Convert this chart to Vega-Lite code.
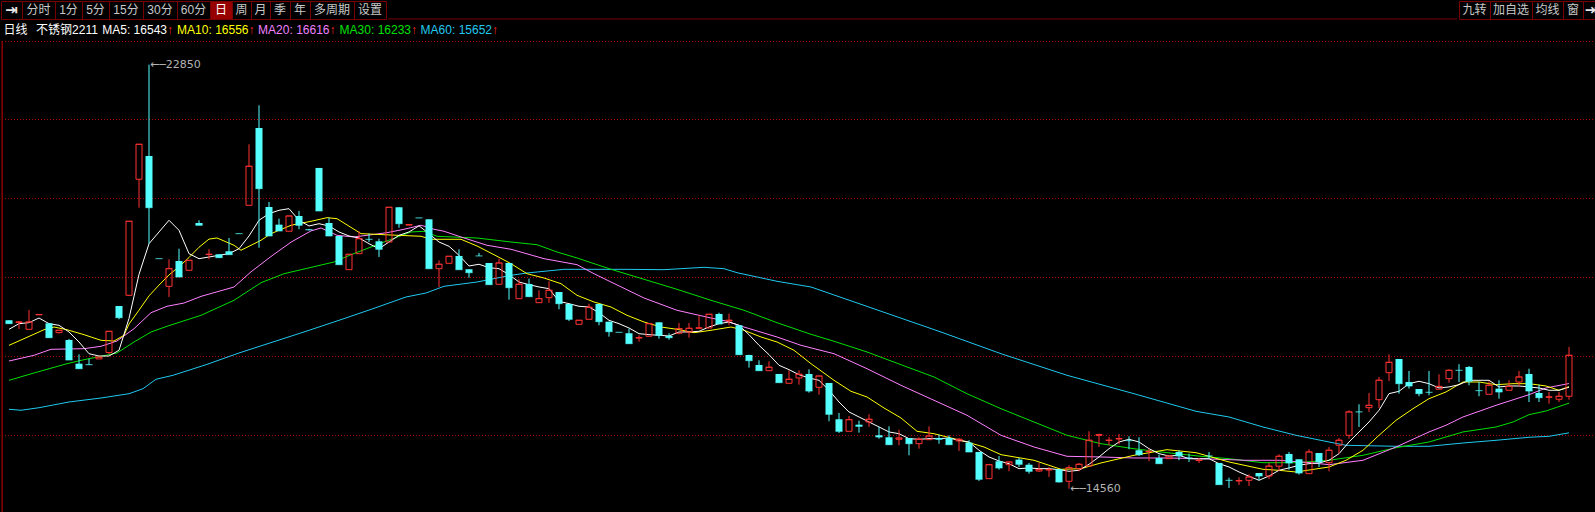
{
"$schema":"https://vega.github.io/schema/vega-lite/v6.json",
"background":"#000000",
"padding":0,
"spacing":0,
"config":{"view":{"stroke":null},"text":{"font":"Liberation Sans, Noto Sans CJK SC","fontSize":12}},
"datasets":{
"candles":[
{"i":0,"o":17853,"h":17853,"l":17787,"c":17787},{"i":1,"o":17810,"h":17833,"l":17682,"c":17819},{"i":2,"o":17676,"h":18054,"l":17676,"c":17819},{"i":3,"o":17960,"h":17966,"l":17960,"c":17966},{"i":4,"o":17793,"h":17793,"l":17512,"c":17512},{"i":5,"o":17611,"h":17657,"l":17594,"c":17657},{"i":6,"o":17467,"h":17487,"l":17076,"c":17076},{"i":7,"o":17004,"h":17187,"l":16906,"c":16906},{"i":8,"o":16990,"h":17102,"l":16984,"c":16984},{"i":9,"o":17097,"h":17131,"l":17097,"c":17131},
{"i":10,"o":17223,"h":17637,"l":17190,"c":17637},{"i":11,"o":18132,"h":18132,"l":17872,"c":17903},{"i":12,"o":18341,"h":19789,"l":18327,"c":19789},{"i":13,"o":20610,"h":21294,"l":20054,"c":21294},{"i":14,"o":21065,"h":22850,"l":19350,"c":20054},{"i":15,"o":19060,"h":19060,"l":19057,"c":19057},{"i":16,"o":18517,"h":19045,"l":18308,"c":18861},{"i":17,"o":19012,"h":19252,"l":18699,"c":18699},{"i":18,"o":18830,"h":19025,"l":18830,"c":19025},{"i":19,"o":19755,"h":19808,"l":19710,"c":19710},
{"i":20,"o":19138,"h":19241,"l":19045,"c":19143},{"i":21,"o":19143,"h":19143,"l":19077,"c":19077},{"i":22,"o":19202,"h":19462,"l":19136,"c":19136},{"i":23,"o":19550,"h":19550,"l":19546,"c":19546},{"i":24,"o":20101,"h":21294,"l":20101,"c":20864},{"i":25,"o":21612,"h":22056,"l":19272,"c":20426},{"i":26,"o":20068,"h":20166,"l":19501,"c":19501},{"i":27,"o":19722,"h":19839,"l":19599,"c":19599},{"i":28,"o":19593,"h":19892,"l":19593,"c":19892},{"i":29,"o":19892,"h":19990,"l":19632,"c":19710},
{"i":30,"o":19630,"h":19640,"l":19610,"c":19620},{"i":31,"o":20831,"h":20831,"l":19990,"c":19990},{"i":32,"o":19755,"h":19859,"l":19501,"c":19501},{"i":33,"o":19501,"h":19501,"l":18940,"c":18940},{"i":34,"o":18842,"h":19143,"l":18842,"c":19143},{"i":35,"o":19155,"h":19593,"l":19155,"c":19448},{"i":36,"o":19440,"h":19546,"l":19383,"c":19436},{"i":37,"o":19397,"h":19448,"l":19090,"c":19241},{"i":38,"o":19383,"h":20062,"l":19383,"c":20062},{"i":39,"o":20062,"h":20062,"l":19663,"c":19741},
{"i":40,"o":19715,"h":19722,"l":19715,"c":19722},{"i":41,"o":19856,"h":19856,"l":19853,"c":19853},{"i":42,"o":19827,"h":19827,"l":18861,"c":18861},{"i":43,"o":18861,"h":19025,"l":18504,"c":18948},{"i":44,"o":18967,"h":19104,"l":18967,"c":19104},{"i":45,"o":19110,"h":19241,"l":18842,"c":18842},{"i":46,"o":18850,"h":18850,"l":18685,"c":18783},{"i":47,"o":19112,"h":19169,"l":19110,"c":19110},{"i":48,"o":18973,"h":18973,"l":18549,"c":18549},{"i":49,"o":18557,"h":19057,"l":18557,"c":18973},
{"i":50,"o":18973,"h":18973,"l":18256,"c":18490},{"i":51,"o":18275,"h":18654,"l":18275,"c":18557},{"i":52,"o":18563,"h":18666,"l":18314,"c":18314},{"i":53,"o":18197,"h":18439,"l":18197,"c":18275},{"i":54,"o":18295,"h":18615,"l":18197,"c":18439},{"i":55,"o":18406,"h":18406,"l":18068,"c":18177},{"i":56,"o":18171,"h":18171,"l":17839,"c":17872},{"i":57,"o":17774,"h":17853,"l":17774,"c":17853},{"i":58,"o":17872,"h":18177,"l":17872,"c":18107},{"i":59,"o":18171,"h":18171,"l":17755,"c":17825},
{"i":60,"o":17825,"h":17825,"l":17532,"c":17630},{"i":61,"o":17621,"h":17621,"l":17618,"c":17618},{"i":62,"o":17599,"h":17689,"l":17395,"c":17395},{"i":63,"o":17508,"h":17559,"l":17434,"c":17512},{"i":64,"o":17540,"h":17786,"l":17540,"c":17786},{"i":65,"o":17813,"h":17813,"l":17493,"c":17559},{"i":66,"o":17546,"h":17599,"l":17473,"c":17512},{"i":67,"o":17599,"h":17800,"l":17579,"c":17689},{"i":68,"o":17624,"h":17800,"l":17512,"c":17696},{"i":69,"o":17698,"h":17950,"l":17698,"c":17702},
{"i":70,"o":17702,"h":17970,"l":17702,"c":17970},{"i":71,"o":17976,"h":18001,"l":17780,"c":17780},{"i":72,"o":17839,"h":17982,"l":17755,"c":17853},{"i":73,"o":17755,"h":17755,"l":17174,"c":17180},{"i":74,"o":17174,"h":17180,"l":16926,"c":17063},{"i":75,"o":16979,"h":17070,"l":16867,"c":16867},{"i":76,"o":16867,"h":17051,"l":16867,"c":16934},{"i":77,"o":16803,"h":16803,"l":16633,"c":16633},{"i":78,"o":16621,"h":16875,"l":16621,"c":16699},{"i":79,"o":16725,"h":16875,"l":16594,"c":16797},
{"i":80,"o":16803,"h":16894,"l":16437,"c":16470},{"i":81,"o":16542,"h":16763,"l":16398,"c":16763},{"i":82,"o":16627,"h":16627,"l":15878,"c":16015},{"i":83,"o":15917,"h":16040,"l":15649,"c":15682},{"i":84,"o":15682,"h":15982,"l":15682,"c":15909},{"i":85,"o":15811,"h":15890,"l":15655,"c":15780},{"i":86,"o":15864,"h":16015,"l":15767,"c":15917},{"i":87,"o":15604,"h":15767,"l":15537,"c":15571},{"i":88,"o":15565,"h":15780,"l":15420,"c":15420},{"i":89,"o":15526,"h":15714,"l":15409,"c":15551},
{"i":90,"o":15551,"h":15551,"l":15213,"c":15440},{"i":91,"o":15440,"h":15565,"l":15342,"c":15526},{"i":92,"o":15518,"h":15780,"l":15518,"c":15590},{"i":93,"o":15551,"h":15616,"l":15440,"c":15526},{"i":94,"o":15551,"h":15604,"l":15420,"c":15420},{"i":95,"o":15493,"h":15551,"l":15297,"c":15526},{"i":96,"o":15460,"h":15507,"l":15278,"c":15278},{"i":97,"o":15278,"h":15278,"l":14711,"c":14744},{"i":98,"o":14756,"h":15029,"l":14756,"c":15029},{"i":99,"o":15096,"h":15199,"l":14932,"c":14965},
{"i":100,"o":15029,"h":15100,"l":14900,"c":15082},{"i":101,"o":15128,"h":15160,"l":14984,"c":15037},{"i":102,"o":15029,"h":15063,"l":14853,"c":14900},{"i":103,"o":14906,"h":15069,"l":14887,"c":14932},{"i":104,"o":14928,"h":14984,"l":14789,"c":14932},{"i":105,"o":14939,"h":14939,"l":14680,"c":14691},{"i":106,"o":14705,"h":15018,"l":14560,"c":14971},{"i":107,"o":14951,"h":15063,"l":14900,"c":15037},{"i":108,"o":15004,"h":15682,"l":15004,"c":15507},{"i":109,"o":15604,"h":15635,"l":15376,"c":15616},
{"i":110,"o":15503,"h":15571,"l":15409,"c":15507},{"i":111,"o":15534,"h":15629,"l":15428,"c":15538},{"i":112,"o":15503,"h":15585,"l":15331,"c":15499},{"i":113,"o":15311,"h":15565,"l":15199,"c":15225},{"i":114,"o":15287,"h":15343,"l":15096,"c":15291},{"i":115,"o":15160,"h":15225,"l":15049,"c":15049},{"i":116,"o":15147,"h":15199,"l":15147,"c":15199},{"i":117,"o":15278,"h":15311,"l":15115,"c":15199},{"i":118,"o":15164,"h":15245,"l":15082,"c":15160},{"i":119,"o":15111,"h":15160,"l":15063,"c":15115},
{"i":120,"o":15203,"h":15278,"l":15147,"c":15199},{"i":121,"o":15063,"h":15063,"l":14639,"c":14639},{"i":122,"o":14728,"h":14775,"l":14574,"c":14724},{"i":123,"o":14713,"h":14782,"l":14632,"c":14717},{"i":124,"o":14724,"h":14842,"l":14613,"c":14789},{"i":125,"o":14867,"h":14867,"l":14724,"c":14808},{"i":126,"o":14808,"h":15063,"l":14750,"c":15000},{"i":127,"o":15000,"h":15233,"l":14900,"c":15194},{"i":128,"o":15239,"h":15278,"l":14932,"c":15063},{"i":129,"o":15135,"h":15135,"l":14834,"c":14867},
{"i":130,"o":14854,"h":15330,"l":14854,"c":15278},{"i":131,"o":15258,"h":15258,"l":14984,"c":15082},{"i":132,"o":15069,"h":15376,"l":14900,"c":15311},{"i":133,"o":15409,"h":15551,"l":15245,"c":15507},{"i":134,"o":15604,"h":16093,"l":15537,"c":16060},{"i":135,"o":16064,"h":16210,"l":15767,"c":16060},{"i":136,"o":16144,"h":16431,"l":16060,"c":16190},{"i":137,"o":16300,"h":16744,"l":16138,"c":16680},{"i":138,"o":16828,"h":17187,"l":16666,"c":17031},{"i":139,"o":17096,"h":17096,"l":16418,"c":16613},
{"i":140,"o":16646,"h":16861,"l":16516,"c":16568},{"i":141,"o":16509,"h":16509,"l":16367,"c":16418},{"i":142,"o":16449,"h":16861,"l":16386,"c":16445},{"i":143,"o":16504,"h":16797,"l":16504,"c":16560},{"i":144,"o":16711,"h":16894,"l":16633,"c":16875},{"i":145,"o":16879,"h":16993,"l":16646,"c":16875},{"i":146,"o":16940,"h":16959,"l":16582,"c":16660},{"i":147,"o":16480,"h":16646,"l":16367,"c":16476},{"i":148,"o":16406,"h":16660,"l":16406,"c":16582},{"i":149,"o":16516,"h":16679,"l":16320,"c":16451},
{"i":150,"o":16484,"h":16679,"l":16484,"c":16560},{"i":151,"o":16646,"h":16861,"l":16560,"c":16744},{"i":152,"o":16803,"h":16906,"l":16255,"c":16470},{"i":153,"o":16431,"h":16593,"l":16255,"c":16339},{"i":154,"o":16349,"h":16451,"l":16222,"c":16353},{"i":155,"o":16308,"h":16451,"l":16255,"c":16367},{"i":156,"o":16367,"h":17331,"l":16300,"c":17168}
],
"ma":[
{"n":"MA60","i":0,"v":16112},{"n":"MA60","i":1.2,"v":16093},{"n":"MA60","i":3,"v":16143},{"n":"MA60","i":6,"v":16255},{"n":"MA60","i":9.2,"v":16333},{"n":"MA60","i":12,"v":16417},{"n":"MA60","i":13.4,"v":16515},{"n":"MA60","i":14.7,"v":16699},{"n":"MA60","i":16.4,"v":16777},{"n":"MA60","i":19.7,"v":16984},{"n":"MA60","i":23,"v":17213},{"n":"MA60","i":26.4,"v":17428},{"n":"MA60","i":29.7,"v":17637},{"n":"MA60","i":33,"v":17852},{"n":"MA60","i":36.4,"v":18079},{"n":"MA60","i":39.7,"v":18308},{"n":"MA60","i":41.7,"v":18386},{"n":"MA60","i":43.5,"v":18517},{"n":"MA60","i":46.8,"v":18601},{"n":"MA60","i":50.2,"v":18732},{"n":"MA60","i":51.8,"v":18777},{"n":"MA60","i":53.5,"v":18810},{"n":"MA60","i":55.5,"v":18849},{"n":"MA60","i":61.5,"v":18849},{"n":"MA60","i":65.5,"v":18842},{"n":"MA60","i":69.5,"v":18888},{"n":"MA60","i":71.5,"v":18861},{"n":"MA60","i":72.8,"v":18783},{"n":"MA60","i":76.8,"v":18615},{"n":"MA60","i":80.2,"v":18503},{"n":"MA60","i":93.2,"v":17623},{"n":"MA60","i":99.2,"v":17199},{"n":"MA60","i":105.8,"v":16777},{"n":"MA60","i":112.5,"v":16417},{"n":"MA60","i":118.7,"v":16073},{"n":"MA60","i":122,"v":15962},{"n":"MA60","i":125.4,"v":15766},{"n":"MA60","i":128.7,"v":15604},{"n":"MA60","i":132,"v":15473},{"n":"MA60","i":133.7,"v":15408},{"n":"MA60","i":138.7,"v":15389},{"n":"MA60","i":142,"v":15389},{"n":"MA60","i":145.4,"v":15453},{"n":"MA60","i":148.7,"v":15506},{"n":"MA60","i":152,"v":15565},{"n":"MA60","i":154,"v":15584},{"n":"MA60","i":156,"v":15652},
{"n":"MA30","i":0,"v":16679},{"n":"MA30","i":2.5,"v":16822},{"n":"MA30","i":5.8,"v":17004},{"n":"MA30","i":7.5,"v":17082},{"n":"MA30","i":9.2,"v":17148},{"n":"MA30","i":10.8,"v":17213},{"n":"MA30","i":12.5,"v":17428},{"n":"MA30","i":14.2,"v":17623},{"n":"MA30","i":15.8,"v":17735},{"n":"MA30","i":19.2,"v":17950},{"n":"MA30","i":22.5,"v":18243},{"n":"MA30","i":25.2,"v":18587},{"n":"MA30","i":27.5,"v":18763},{"n":"MA30","i":29.2,"v":18841},{"n":"MA30","i":32.5,"v":18992},{"n":"MA30","i":34.2,"v":19135},{"n":"MA30","i":37.5,"v":19383},{"n":"MA30","i":40.2,"v":19579},{"n":"MA30","i":41.5,"v":19592},{"n":"MA30","i":42.8,"v":19494},{"n":"MA30","i":46.8,"v":19461},{"n":"MA30","i":50.2,"v":19383},{"n":"MA30","i":52.8,"v":19330},{"n":"MA30","i":54.8,"v":19188},{"n":"MA30","i":56.8,"v":19071},{"n":"MA30","i":60.2,"v":18849},{"n":"MA30","i":63.5,"v":18654},{"n":"MA30","i":66.8,"v":18458},{"n":"MA30","i":70.2,"v":18243},{"n":"MA30","i":73.5,"v":18048},{"n":"MA30","i":76.8,"v":17805},{"n":"MA30","i":80.2,"v":17578},{"n":"MA30","i":82.5,"v":17442},{"n":"MA30","i":85.8,"v":17233},{"n":"MA30","i":89.2,"v":16984},{"n":"MA30","i":92.5,"v":16744},{"n":"MA30","i":95.8,"v":16417},{"n":"MA30","i":99.2,"v":16124},{"n":"MA30","i":102.5,"v":15864},{"n":"MA30","i":105.8,"v":15604},{"n":"MA30","i":109.2,"v":15439},{"n":"MA30","i":112.5,"v":15341},{"n":"MA30","i":115.8,"v":15264},{"n":"MA30","i":119.2,"v":15193},{"n":"MA30","i":122,"v":15146},{"n":"MA30","i":125.4,"v":15068},{"n":"MA30","i":128.7,"v":15068},{"n":"MA30","i":132,"v":15115},{"n":"MA30","i":135.4,"v":15213},{"n":"MA30","i":138.7,"v":15361},{"n":"MA30","i":142,"v":15473},{"n":"MA30","i":145.4,"v":15669},{"n":"MA30","i":148.7,"v":15766},{"n":"MA30","i":150.4,"v":15864},{"n":"MA30","i":152,"v":16007},{"n":"MA30","i":153.7,"v":16079},{"n":"MA30","i":156,"v":16233},
{"n":"MA20","i":0,"v":17056},{"n":"MA20","i":2.5,"v":17168},{"n":"MA20","i":4.2,"v":17285},{"n":"MA20","i":7.5,"v":17297},{"n":"MA20","i":9.2,"v":17344},{"n":"MA20","i":10.8,"v":17447},{"n":"MA20","i":12.5,"v":17688},{"n":"MA20","i":14.2,"v":18001},{"n":"MA20","i":15.8,"v":18126},{"n":"MA20","i":17.5,"v":18190},{"n":"MA20","i":19.2,"v":18320},{"n":"MA20","i":22.5,"v":18503},{"n":"MA20","i":24.2,"v":18800},{"n":"MA20","i":26.2,"v":19100},{"n":"MA20","i":28.2,"v":19380},{"n":"MA20","i":30.2,"v":19600},{"n":"MA20","i":31.2,"v":19657},{"n":"MA20","i":32.8,"v":19514},{"n":"MA20","i":34.5,"v":19481},{"n":"MA20","i":37.8,"v":19565},{"n":"MA20","i":39.5,"v":19632},{"n":"MA20","i":41.2,"v":19710},{"n":"MA20","i":42.5,"v":19632},{"n":"MA20","i":43.5,"v":19593},{"n":"MA20","i":45.2,"v":19481},{"n":"MA20","i":47.8,"v":19319},{"n":"MA20","i":50.2,"v":19241},{"n":"MA20","i":53.5,"v":19057},{"n":"MA20","i":56.8,"v":18940},{"n":"MA20","i":58.5,"v":18763},{"n":"MA20","i":60.2,"v":18601},{"n":"MA20","i":63.5,"v":18288},{"n":"MA20","i":66.8,"v":18048},{"n":"MA20","i":70.2,"v":17897},{"n":"MA20","i":71.8,"v":17833},{"n":"MA20","i":73.5,"v":17721},{"n":"MA20","i":76.8,"v":17526},{"n":"MA20","i":79.2,"v":17363},{"n":"MA20","i":82.5,"v":17199},{"n":"MA20","i":85.8,"v":16906},{"n":"MA20","i":89.2,"v":16581},{"n":"MA20","i":92.5,"v":16288},{"n":"MA20","i":95.8,"v":15995},{"n":"MA20","i":99.2,"v":15604},{"n":"MA20","i":102.5,"v":15375},{"n":"MA20","i":105.8,"v":15193},{"n":"MA20","i":109.2,"v":15180},{"n":"MA20","i":112.5,"v":15160},{"n":"MA20","i":115.8,"v":15160},{"n":"MA20","i":119.2,"v":15147},{"n":"MA20","i":123.7,"v":15115},{"n":"MA20","i":127,"v":15115},{"n":"MA20","i":130.4,"v":15063},{"n":"MA20","i":132,"v":15029},{"n":"MA20","i":135.4,"v":15115},{"n":"MA20","i":138.7,"v":15375},{"n":"MA20","i":142,"v":15669},{"n":"MA20","i":143.7,"v":15800},{"n":"MA20","i":145.4,"v":15962},{"n":"MA20","i":148.7,"v":16190},{"n":"MA20","i":152,"v":16398},{"n":"MA20","i":153.7,"v":16529},{"n":"MA20","i":156,"v":16616},
{"n":"MA10","i":0,"v":17363},{"n":"MA10","i":1.5,"v":17493},{"n":"MA10","i":3.5,"v":17668},{"n":"MA10","i":4.5,"v":17721},{"n":"MA10","i":5.8,"v":17668},{"n":"MA10","i":7.5,"v":17571},{"n":"MA10","i":9.2,"v":17461},{"n":"MA10","i":10.5,"v":17447},{"n":"MA10","i":11.5,"v":17559},{"n":"MA10","i":12,"v":17780},{"n":"MA10","i":13,"v":18050},{"n":"MA10","i":14,"v":18330},{"n":"MA10","i":15,"v":18540},{"n":"MA10","i":16,"v":18740},{"n":"MA10","i":17,"v":18900},{"n":"MA10","i":18,"v":19080},{"n":"MA10","i":19,"v":19280},{"n":"MA10","i":20,"v":19440},{"n":"MA10","i":20.8,"v":19462},{"n":"MA10","i":22.5,"v":19319},{"n":"MA10","i":23.2,"v":19221},{"n":"MA10","i":25.2,"v":19417},{"n":"MA10","i":26.2,"v":19546},{"n":"MA10","i":28.2,"v":19710},{"n":"MA10","i":30.2,"v":19788},{"n":"MA10","i":31.8,"v":19859},{"n":"MA10","i":32.8,"v":19839},{"n":"MA10","i":34.5,"v":19632},{"n":"MA10","i":35.2,"v":19546},{"n":"MA10","i":37.5,"v":19526},{"n":"MA10","i":41.2,"v":19495},{"n":"MA10","i":42.2,"v":19436},{"n":"MA10","i":45.2,"v":19436},{"n":"MA10","i":46.8,"v":19305},{"n":"MA10","i":48.5,"v":19135},{"n":"MA10","i":50.2,"v":18959},{"n":"MA10","i":51.8,"v":18763},{"n":"MA10","i":53.5,"v":18679},{"n":"MA10","i":55.2,"v":18568},{"n":"MA10","i":56.8,"v":18341},{"n":"MA10","i":58.5,"v":18210},{"n":"MA10","i":60.2,"v":18112},{"n":"MA10","i":61.8,"v":17950},{"n":"MA10","i":63.5,"v":17819},{"n":"MA10","i":65.2,"v":17721},{"n":"MA10","i":66.8,"v":17676},{"n":"MA10","i":68.5,"v":17610},{"n":"MA10","i":70.2,"v":17657},{"n":"MA10","i":72.2,"v":17721},{"n":"MA10","i":73.5,"v":17657},{"n":"MA10","i":75.2,"v":17526},{"n":"MA10","i":76.8,"v":17428},{"n":"MA10","i":78.5,"v":17266},{"n":"MA10","i":80.2,"v":17004},{"n":"MA10","i":82.5,"v":16679},{"n":"MA10","i":84.2,"v":16464},{"n":"MA10","i":85.8,"v":16353},{"n":"MA10","i":87.5,"v":16138},{"n":"MA10","i":89.2,"v":15942},{"n":"MA10","i":90.8,"v":15682},{"n":"MA10","i":92.5,"v":15635},{"n":"MA10","i":95.8,"v":15473},{"n":"MA10","i":97.5,"v":15375},{"n":"MA10","i":99.2,"v":15225},{"n":"MA10","i":102.5,"v":15115},{"n":"MA10","i":105.2,"v":14939},{"n":"MA10","i":107.2,"v":14951},{"n":"MA10","i":109.2,"v":15063},{"n":"MA10","i":112.5,"v":15213},{"n":"MA10","i":115.8,"v":15323},{"n":"MA10","i":118.7,"v":15264},{"n":"MA10","i":122,"v":15082},{"n":"MA10","i":125.4,"v":14939},{"n":"MA10","i":127,"v":14919},{"n":"MA10","i":128.7,"v":14886},{"n":"MA10","i":132,"v":14984},{"n":"MA10","i":133.7,"v":15115},{"n":"MA10","i":135.4,"v":15311},{"n":"MA10","i":137,"v":15604},{"n":"MA10","i":138.7,"v":15897},{"n":"MA10","i":140.4,"v":16124},{"n":"MA10","i":142,"v":16320},{"n":"MA10","i":143.7,"v":16451},{"n":"MA10","i":145.4,"v":16646},{"n":"MA10","i":147,"v":16646},{"n":"MA10","i":148.7,"v":16593},{"n":"MA10","i":150.4,"v":16613},{"n":"MA10","i":152,"v":16613},{"n":"MA10","i":153.7,"v":16568},{"n":"MA10","i":155,"v":16484},{"n":"MA10","i":156,"v":16556},
{"n":"MA5","i":0,"v":17676},{"n":"MA5","i":1,"v":17786},{"n":"MA5","i":2,"v":17806},{"n":"MA5","i":3,"v":17897},{"n":"MA5","i":4,"v":17786},{"n":"MA5","i":5,"v":17754},{"n":"MA5","i":6,"v":17624},{"n":"MA5","i":7,"v":17428},{"n":"MA5","i":8,"v":17199},{"n":"MA5","i":9,"v":17154},{"n":"MA5","i":10,"v":17154},{"n":"MA5","i":11,"v":17266},{"n":"MA5","i":12,"v":17889},{"n":"MA5","i":13,"v":18751},{"n":"MA5","i":14,"v":19350},{"n":"MA5","i":15,"v":19579},{"n":"MA5","i":16,"v":19808},{"n":"MA5","i":17,"v":19612},{"n":"MA5","i":18,"v":19155},{"n":"MA5","i":19,"v":19057},
{"n":"MA5","i":20,"v":19090},{"n":"MA5","i":21,"v":19123},{"n":"MA5","i":22,"v":19155},{"n":"MA5","i":23,"v":19252},{"n":"MA5","i":24,"v":19501},{"n":"MA5","i":25,"v":19808},{"n":"MA5","i":26,"v":19937},{"n":"MA5","i":27,"v":20003},{"n":"MA5","i":28,"v":20035},{"n":"MA5","i":29,"v":19808},{"n":"MA5","i":30,"v":19696},{"n":"MA5","i":31,"v":19741},{"n":"MA5","i":32,"v":19696},{"n":"MA5","i":33,"v":19579},{"n":"MA5","i":34,"v":19501},{"n":"MA5","i":35,"v":19462},{"n":"MA5","i":36,"v":19350},{"n":"MA5","i":37,"v":19252},{"n":"MA5","i":38,"v":19383},{"n":"MA5","i":39,"v":19514},
{"n":"MA5","i":40,"v":19579},{"n":"MA5","i":41,"v":19700},{"n":"MA5","i":42,"v":19546},{"n":"MA5","i":43,"v":19383},{"n":"MA5","i":44,"v":19299},{"n":"MA5","i":45,"v":19123},{"n":"MA5","i":46,"v":18914},{"n":"MA5","i":47,"v":18948},{"n":"MA5","i":48,"v":18881},{"n":"MA5","i":49,"v":18861},{"n":"MA5","i":50,"v":18744},{"n":"MA5","i":51,"v":18601},{"n":"MA5","i":52,"v":18549},{"n":"MA5","i":53,"v":18504},{"n":"MA5","i":54,"v":18470},{"n":"MA5","i":55,"v":18224},{"n":"MA5","i":56,"v":18177},{"n":"MA5","i":57,"v":18126},{"n":"MA5","i":58,"v":18112},{"n":"MA5","i":59,"v":18001},
{"n":"MA5","i":60,"v":17852},{"n":"MA5","i":61,"v":17786},{"n":"MA5","i":62,"v":17702},{"n":"MA5","i":63,"v":17591},{"n":"MA5","i":64,"v":17571},{"n":"MA5","i":65,"v":17559},{"n":"MA5","i":66,"v":17546},{"n":"MA5","i":67,"v":17624},{"n":"MA5","i":68,"v":17624},{"n":"MA5","i":69,"v":17637},{"n":"MA5","i":70,"v":17721},{"n":"MA5","i":71,"v":17786},{"n":"MA5","i":72,"v":17819},{"n":"MA5","i":73,"v":17755},{"n":"MA5","i":74,"v":17571},{"n":"MA5","i":75,"v":17364},{"n":"MA5","i":76,"v":17180},{"n":"MA5","i":77,"v":16973},{"n":"MA5","i":78,"v":16887},{"n":"MA5","i":79,"v":16789},
{"n":"MA5","i":80,"v":16725},{"n":"MA5","i":81,"v":16679},{"n":"MA5","i":82,"v":16484},{"n":"MA5","i":83,"v":16255},{"n":"MA5","i":84,"v":16060},{"n":"MA5","i":85,"v":15962},{"n":"MA5","i":86,"v":15864},{"n":"MA5","i":87,"v":15767},{"n":"MA5","i":88,"v":15669},{"n":"MA5","i":89,"v":15635},{"n":"MA5","i":90,"v":15538},{"n":"MA5","i":91,"v":15526},{"n":"MA5","i":92,"v":15538},{"n":"MA5","i":93,"v":15538},{"n":"MA5","i":94,"v":15551},{"n":"MA5","i":95,"v":15506},{"n":"MA5","i":96,"v":15473},{"n":"MA5","i":97,"v":15311},{"n":"MA5","i":98,"v":15180},{"n":"MA5","i":99,"v":15102},
{"n":"MA5","i":100,"v":15049},{"n":"MA5","i":101,"v":14951},{"n":"MA5","i":102,"v":14965},{"n":"MA5","i":103,"v":14951},{"n":"MA5","i":104,"v":14951},{"n":"MA5","i":105,"v":14932},{"n":"MA5","i":106,"v":14900},{"n":"MA5","i":107,"v":14920},{"n":"MA5","i":108,"v":15037},{"n":"MA5","i":109,"v":15180},{"n":"MA5","i":110,"v":15342},{"n":"MA5","i":111,"v":15473},{"n":"MA5","i":112,"v":15526},{"n":"MA5","i":113,"v":15473},{"n":"MA5","i":114,"v":15342},{"n":"MA5","i":115,"v":15245},{"n":"MA5","i":116,"v":15199},{"n":"MA5","i":117,"v":15213},{"n":"MA5","i":118,"v":15147},{"n":"MA5","i":119,"v":15141},
{"n":"MA5","i":120,"v":15147},{"n":"MA5","i":121,"v":15049},{"n":"MA5","i":122,"v":14984},{"n":"MA5","i":123,"v":14887},{"n":"MA5","i":124,"v":14803},{"n":"MA5","i":125,"v":14724},{"n":"MA5","i":126,"v":14808},{"n":"MA5","i":127,"v":14920},{"n":"MA5","i":128,"v":14965},{"n":"MA5","i":129,"v":15018},{"n":"MA5","i":130,"v":15049},{"n":"MA5","i":131,"v":15063},{"n":"MA5","i":132,"v":15115},{"n":"MA5","i":133,"v":15245},{"n":"MA5","i":134,"v":15473},{"n":"MA5","i":135,"v":15669},{"n":"MA5","i":136,"v":15864},{"n":"MA5","i":137,"v":16093},{"n":"MA5","i":138,"v":16418},{"n":"MA5","i":139,"v":16464},
{"n":"MA5","i":140,"v":16613},{"n":"MA5","i":141,"v":16660},{"n":"MA5","i":142,"v":16613},{"n":"MA5","i":143,"v":16529},{"n":"MA5","i":144,"v":16549},{"n":"MA5","i":145,"v":16593},{"n":"MA5","i":146,"v":16679},{"n":"MA5","i":147,"v":16679},{"n":"MA5","i":148,"v":16679},{"n":"MA5","i":149,"v":16549},{"n":"MA5","i":150,"v":16568},{"n":"MA5","i":151,"v":16568},{"n":"MA5","i":152,"v":16549},{"n":"MA5","i":153,"v":16529},{"n":"MA5","i":154,"v":16484},{"n":"MA5","i":155,"v":16484},{"n":"MA5","i":156,"v":16543}
],
"grid":[{"v":23303},{"v":21778},{"v":20234},{"v":18689},{"v":17144},{"v":15600}],
"edge":[{"i":-0.68}],
"marks":[{"i":14,"v":22850,"t":"←─22850"},{"i":106,"v":14560,"t":"←─14560"}]
},
"vconcat":[
{"hconcat":[
 {"hconcat":[
  {"width":21,"height":18,"view":{"stroke":"#780000","fill":"#000000"},"data":{"values":[{"t":"⇥"}]},"mark":{"type":"text","color":"#e6e6e6","font":"DejaVu Sans","fontSize":15,"fontWeight":"bold"},"encoding":{"text":{"field":"t"}}},
  {"width":33,"height":18,"view":{"stroke":"#780000","fill":"#000000"},"data":{"values":[{"t":"分时"}]},"mark":{"type":"text","color":"#c8c8c8"},"encoding":{"text":{"field":"t"}}},
  {"width":27,"height":18,"view":{"stroke":"#780000","fill":"#000000"},"data":{"values":[{"t":"1分"}]},"mark":{"type":"text","color":"#c8c8c8"},"encoding":{"text":{"field":"t"}}},
  {"width":27,"height":18,"view":{"stroke":"#780000","fill":"#000000"},"data":{"values":[{"t":"5分"}]},"mark":{"type":"text","color":"#c8c8c8"},"encoding":{"text":{"field":"t"}}},
  {"width":34,"height":18,"view":{"stroke":"#780000","fill":"#000000"},"data":{"values":[{"t":"15分"}]},"mark":{"type":"text","color":"#c8c8c8"},"encoding":{"text":{"field":"t"}}},
  {"width":34,"height":18,"view":{"stroke":"#780000","fill":"#000000"},"data":{"values":[{"t":"30分"}]},"mark":{"type":"text","color":"#c8c8c8"},"encoding":{"text":{"field":"t"}}},
  {"width":33,"height":18,"view":{"stroke":"#780000","fill":"#000000"},"data":{"values":[{"t":"60分"}]},"mark":{"type":"text","color":"#c8c8c8"},"encoding":{"text":{"field":"t"}}},
  {"width":22,"height":18,"view":{"stroke":"#780000","fill":"#960000"},"data":{"values":[{"t":"日"}]},"mark":{"type":"text","color":"#ffffff"},"encoding":{"text":{"field":"t"}}},
  {"width":19,"height":18,"view":{"stroke":"#780000","fill":"#000000"},"data":{"values":[{"t":"周"}]},"mark":{"type":"text","color":"#c8c8c8"},"encoding":{"text":{"field":"t"}}},
  {"width":19,"height":18,"view":{"stroke":"#780000","fill":"#000000"},"data":{"values":[{"t":"月"}]},"mark":{"type":"text","color":"#c8c8c8"},"encoding":{"text":{"field":"t"}}},
  {"width":20,"height":18,"view":{"stroke":"#780000","fill":"#000000"},"data":{"values":[{"t":"季"}]},"mark":{"type":"text","color":"#c8c8c8"},"encoding":{"text":{"field":"t"}}},
  {"width":20,"height":18,"view":{"stroke":"#780000","fill":"#000000"},"data":{"values":[{"t":"年"}]},"mark":{"type":"text","color":"#c8c8c8"},"encoding":{"text":{"field":"t"}}},
  {"width":44,"height":18,"view":{"stroke":"#780000","fill":"#000000"},"data":{"values":[{"t":"多周期"}]},"mark":{"type":"text","color":"#c8c8c8"},"encoding":{"text":{"field":"t"}}},
  {"width":32,"height":18,"view":{"stroke":"#780000","fill":"#000000"},"data":{"values":[{"t":"设置"}]},"mark":{"type":"text","color":"#c8c8c8"},"encoding":{"text":{"field":"t"}}}
 ],"spacing":0,"bounds":"flush"},
 {"width":1069,"height":18,"data":{"values":[{"b":0}]},"mark":{"type":"rule","color":"#780000"},"encoding":{"y":{"field":"b","type":"quantitative","scale":{"domain":[0,1]},"axis":null}}},
 {"hconcat":[
  {"width":31,"height":18,"view":{"stroke":"#780000","fill":"#000000"},"data":{"values":[{"t":"九转"}]},"mark":{"type":"text","color":"#c8c8c8"},"encoding":{"text":{"field":"t"}}},
  {"width":42,"height":18,"view":{"stroke":"#780000","fill":"#000000"},"data":{"values":[{"t":"加自选"}]},"mark":{"type":"text","color":"#c8c8c8"},"encoding":{"text":{"field":"t"}}},
  {"width":31,"height":18,"view":{"stroke":"#780000","fill":"#000000"},"data":{"values":[{"t":"均线"}]},"mark":{"type":"text","color":"#c8c8c8"},"encoding":{"text":{"field":"t"}}},
  {"width":20,"height":18,"view":{"stroke":"#780000","fill":"#000000"},"data":{"values":[{"t":"窗"}]},"mark":{"type":"text","color":"#c8c8c8"},"encoding":{"text":{"field":"t"}}},
  {"width":16,"height":18,"view":{"stroke":"#780000","fill":"#000000"},"data":{"values":[{"t":"⇥"}]},"mark":{"type":"text","color":"#e6e6e6","font":"DejaVu Sans","fontSize":15,"fontWeight":"bold"},"encoding":{"text":{"field":"t"}}}
 ],"spacing":0,"bounds":"flush"}
],"spacing":0},
{"hconcat":[
 {"width":29,"height":20,"data":{"values":[{"t":"日线"}]},"mark":{"type":"text","color":"#ffffff"},"encoding":{"text":{"field":"t"}}},
 {"width":74,"height":20,"data":{"values":[{"t":"不锈钢2211"}]},"mark":{"type":"text","color":"#ffffff"},"encoding":{"text":{"field":"t"}}},
 {"width":126,"height":20,"data":{"values":[{"t":"MA5: 16543","a":"↑"}]},"layer":[{"mark":{"type":"text","align":"right","color":"#ffffff"},"encoding":{"text":{"field":"t"}}},{"mark":{"type":"text","align":"left","color":"#ff2020"},"encoding":{"text":{"field":"a"}}}]},
 {"width":37,"height":20,"data":{"values":[{"t":"MA10: 16556","a":"↑"}]},"layer":[{"mark":{"type":"text","align":"right","color":"#ffff00"},"encoding":{"text":{"field":"t"}}},{"mark":{"type":"text","align":"left","color":"#ff2020"},"encoding":{"text":{"field":"a"}}}]},
 {"width":125,"height":20,"data":{"values":[{"t":"MA20: 16616","a":"↑"}]},"layer":[{"mark":{"type":"text","align":"right","color":"#f080ff"},"encoding":{"text":{"field":"t"}}},{"mark":{"type":"text","align":"left","color":"#ff2020"},"encoding":{"text":{"field":"a"}}}]},
 {"width":38,"height":20,"data":{"values":[{"t":"MA30: 16233","a":"↑"}]},"layer":[{"mark":{"type":"text","align":"right","color":"#00e000"},"encoding":{"text":{"field":"t"}}},{"mark":{"type":"text","align":"left","color":"#ff2020"},"encoding":{"text":{"field":"a"}}}]},
 {"width":124,"height":20,"data":{"values":[{"t":"MA60: 15652","a":"↑"}]},"layer":[{"mark":{"type":"text","align":"right","color":"#20c8f0"},"encoding":{"text":{"field":"t"}}},{"mark":{"type":"text","align":"left","color":"#ff2020"},"encoding":{"text":{"field":"a"}}}]}
],"spacing":0,"bounds":"flush"},
{"width":1595,"height":473,
 "layer":[
  {"data":{"name":"grid"},"mark":{"type":"rule","color":"#b40000","strokeDash":[1,2],"strokeWidth":1},
   "encoding":{
    "y":{"field":"v","type":"quantitative","scale":{"domain":[14065,23313],"nice":false,"zero":false,"padding":0},"axis":null}
   }},
  {"data":{"name":"edge"},"mark":{"type":"rule","color":"#8c0000","strokeWidth":1.5},
   "encoding":{
    "x":{"field":"i","type":"quantitative","scale":{"domain":[-0.8,158.7],"nice":false,"zero":false,"padding":0},"axis":null}
   }},
  {"data":{"name":"ma"},"mark":{"type":"line","strokeWidth":1},
   "encoding":{
    "x":{"field":"i","type":"quantitative","axis":null},
    "y":{"field":"v","type":"quantitative","axis":null},
    "color":{"field":"n","type":"nominal","scale":{"domain":["MA60","MA30","MA20","MA10","MA5"],"range":["#20c8f0","#00e000","#ff80ff","#ffff00","#ffffff"]},"legend":null}
   }},
  {"data":{"name":"candles"},"transform":[{"filter":"datum.c < datum.o"}],"mark":{"type":"rule","color":"#54ffff","strokeWidth":1},
   "encoding":{"x":{"field":"i","type":"quantitative","axis":null},"y":{"field":"h","type":"quantitative","axis":null},"y2":{"field":"l"}}},
  {"data":{"name":"candles"},"transform":[{"filter":"datum.c < datum.o"}],"mark":{"type":"bar","width":7,"color":"#54ffff"},
   "encoding":{"x":{"field":"i","type":"quantitative","axis":null},"y":{"field":"o","type":"quantitative","axis":null},"y2":{"field":"c"}}},
  {"data":{"name":"candles"},"transform":[{"filter":"datum.c < datum.o"}],"mark":{"type":"tick","orient":"horizontal","size":7,"thickness":1,"color":"#54ffff"},
   "encoding":{"x":{"field":"i","type":"quantitative","axis":null},"y":{"field":"c","type":"quantitative","axis":null}}},
  {"data":{"name":"candles"},"transform":[{"filter":"datum.c >= datum.o"}],"mark":{"type":"rule","color":"#ff3232","strokeWidth":1},
   "encoding":{"x":{"field":"i","type":"quantitative","axis":null},"y":{"field":"h","type":"quantitative","axis":null},"y2":{"field":"c"}}},
  {"data":{"name":"candles"},"transform":[{"filter":"datum.c >= datum.o"}],"mark":{"type":"rule","color":"#ff3232","strokeWidth":1},
   "encoding":{"x":{"field":"i","type":"quantitative","axis":null},"y":{"field":"o","type":"quantitative","axis":null},"y2":{"field":"l"}}},
  {"data":{"name":"candles"},"transform":[{"filter":"datum.c >= datum.o"}],"mark":{"type":"bar","width":6,"fill":"transparent","stroke":"#ff3232","strokeWidth":1},
   "encoding":{"x":{"field":"i","type":"quantitative","axis":null},"y":{"field":"o","type":"quantitative","axis":null},"y2":{"field":"c"}}},
  {"data":{"name":"candles"},"transform":[{"filter":"datum.c >= datum.o"}],"mark":{"type":"tick","orient":"horizontal","size":7,"thickness":1,"color":"#ff3232"},
   "encoding":{"x":{"field":"i","type":"quantitative","axis":null},"y":{"field":"c","type":"quantitative","axis":null}}},
  {"data":{"name":"marks"},"mark":{"type":"text","align":"left","baseline":"middle","dx":1,"color":"#b4b4b4","font":"DejaVu Sans","fontSize":11},
   "encoding":{"x":{"field":"i","type":"quantitative","axis":null},"y":{"field":"v","type":"quantitative","axis":null},"text":{"field":"t"}}}
 ]}
]
}
